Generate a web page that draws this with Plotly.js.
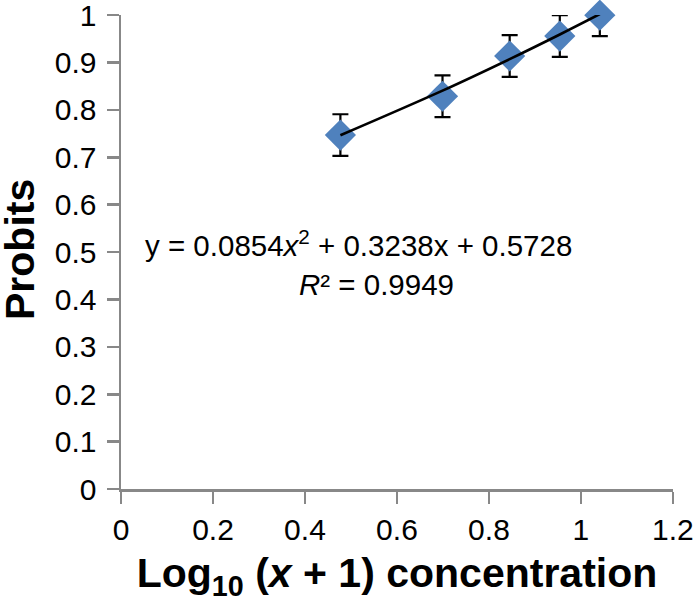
<!DOCTYPE html>
<html>
<head>
<meta charset="utf-8">
<script src="https://cdn.plot.ly/plotly-3.0.1.min.js"></script>
<style>html,body{margin:0;padding:0;background:#fff;}#chart{width:694px;height:605px;}</style>
</head>
<body>
<div id="chart"></div>
<script>
// Data
var logConc = [0.477, 0.699, 0.845, 0.954, 1.041];
var probits = [0.747, 0.829, 0.914, 0.956, 1.000];
var probitErr = [0.044, 0.044, 0.044, 0.044, 0.044];
// Trendline coefficients shown on the chart: y = a x^2 + b x + c
var trendCoef = [0.0854, 0.3238, 0.5728];
var eqLine1 = 'y = 0.0854<i>x</i><sup>2</sup> + 0.3238x + 0.5728';
var eqLine2 = '<i>R</i>² = 0.9949';
var xTitle = 'Log<sub>10</sub> (<i>x</i> + 1) concentration';
var yTitle = 'Probits';

var trendY = logConc.map(function (x) {
  return trendCoef[0] * x * x + trendCoef[1] * x + trendCoef[2];
});

var FONT = 'Liberation Sans, Arial, sans-serif';
var blue = '#4F81BD';

var traces = [
  { // error bars (clipped to plot area)
    x: logConc, y: probits, type: 'scatter', mode: 'markers',
    marker: {size: 24, symbol: 'diamond', color: 'rgba(0,0,0,0)'},
    error_y: {type: 'data', array: probitErr, visible: true, color: '#000', thickness: 2.2, width: 8},
    cliponaxis: true, hoverinfo: 'skip', showlegend: false
  },
  { // diamonds
    x: logConc, y: probits, type: 'scatter', mode: 'markers',
    marker: {size: 24, symbol: 'diamond', color: blue, line: {width: 0}},
    cliponaxis: false, showlegend: false
  },
  { // polynomial trendline
    x: logConc, y: trendY, type: 'scatter', mode: 'lines',
    line: {color: '#000', width: 2.7, shape: 'spline'},
    cliponaxis: false, showlegend: false
  }
];

function axisBase() {
  return {
    showgrid: false, zeroline: false, showline: true,
    linecolor: '#888888', linewidth: 2.5,
    ticks: 'outside', ticklen: 12, tickwidth: 2.5, tickcolor: '#888888',
    tickfont: {family: FONT, size: 30, color: '#000'},
    tickmode: 'linear', tick0: 0, ticklabeloverflow: 'allow'
  };
}

var layout = {
  width: 694, height: 605,
  margin: {l: 121, r: 21, t: 15, b: 116},
  paper_bgcolor: '#fff', plot_bgcolor: '#fff',
  showlegend: false,
  xaxis: Object.assign(axisBase(), {
    range: [0, 1.2001], dtick: 0.2,
    title: {text: xTitle, font: {family: FONT, size: 41, color: '#000', weight: 'bold'}, standoff: 14}
  }),
  yaxis: Object.assign(axisBase(), {
    range: [0, 1.0005], dtick: 0.1, ticklabelstandoff: 4
  }),
  annotations: [
    {xref: 'paper', yref: 'paper', x: (20 - 121) / 552, y: (489 - 250) / 474, text: yTitle, textangle: -90, showarrow: false,
     xanchor: 'center', yanchor: 'middle', font: {family: FONT, size: 41, color: '#000', weight: 'bold'}},
    {xref: 'paper', yref: 'paper', x: (358 - 121) / 552, y: (489 - 243) / 474, text: eqLine1, showarrow: false,
     xanchor: 'center', yanchor: 'middle', font: {family: FONT, size: 29.5, color: '#000'}},
    {xref: 'paper', yref: 'paper', x: (376 - 121) / 552, y: (489 - 284) / 474, text: eqLine2, showarrow: false,
     xanchor: 'center', yanchor: 'middle', font: {family: FONT, size: 29.5, color: '#000'}}
  ]
};

Plotly.newPlot('chart', traces, layout, {displayModeBar: false, staticPlot: true});
</script>
</body>
</html>
